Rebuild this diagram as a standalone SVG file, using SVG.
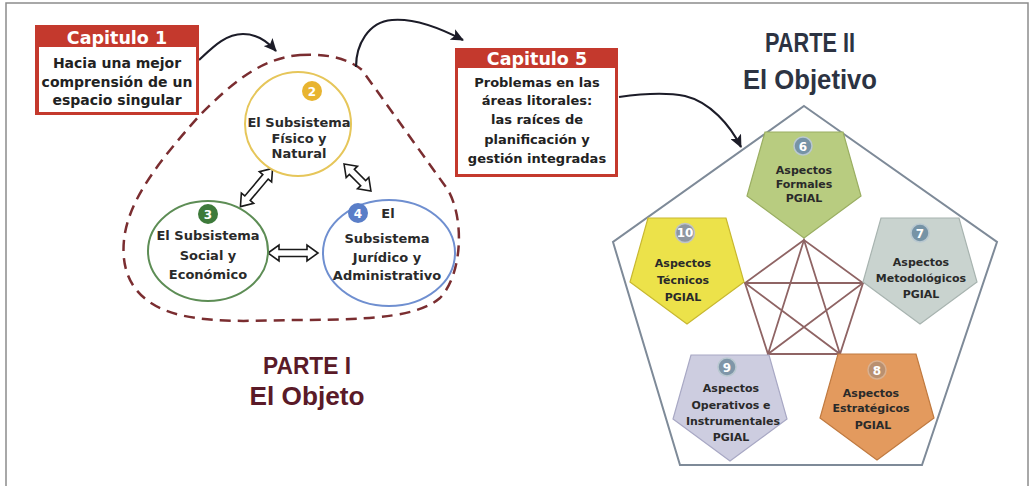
<svg xmlns="http://www.w3.org/2000/svg" xmlns:xlink="http://www.w3.org/1999/xlink" width="1032" height="486" viewBox="0 0 1032 486">
<style>
text{font-family:"DejaVu Sans","Liberation Sans",sans-serif;font-weight:bold;text-anchor:middle}
.hdr{fill:#fff;font-size:17.5px}
.body{fill:#222;font-size:14px}
.body5{fill:#222;font-size:13px}
.ctext{fill:#2a2a2a;font-size:13px}
.num{fill:#fff;font-size:12px}
.ntext{fill:#2a2a2a;font-size:11px}
.part1{fill:#5a1a28;font-family:"Liberation Sans",sans-serif}
.part2{fill:#2c3342;font-family:"Liberation Sans",sans-serif}
.redbox{fill:#c4392d}
.inner{fill:#fff}
.curve{fill:none;stroke:#1c1c28;stroke-width:2.2;marker-end:url(#ah)}
.dbl{fill:#fff;stroke:#1a1a1a;stroke-width:1.6;stroke-linejoin:miter}
.star{stroke:#8f6464;stroke-width:1.8;fill:none}
.pent{stroke-width:1.2}
</style>
<defs>
<marker id="ah" markerUnits="userSpaceOnUse" markerWidth="14" markerHeight="12" refX="12" refY="6" orient="auto">
<path d="M0,0 L13,6 L0,12 L3,6 Z" fill="#1c1c28"/>
</marker>
<polygon id="pent" points="-39,0 39,0 57,64 0,106 -57,64"/>
</defs>

<rect x="6" y="3" width="1022" height="495" fill="#fff" stroke="#8c8c8c" stroke-width="1.5"/>

<!-- dashed blob -->
<path id="blob" d="M 300 55 C 330 53 350 60 362 70 L 448 190 C 465 220 462 275 440 298 C 420 315 380 320 300 320 C 260 320 220 324 180 315 C 140 305 120 280 124 240 C 128 200 160 160 200 115 C 230 85 260 58 300 55 Z" fill="none" stroke="#7a2d30" stroke-width="2.5" stroke-dasharray="11 7"/>

<g id="connectors">
<path class="curve" d="M 199 60 C 212 48 225 34 243 34 C 258 34 268 42 276 51"/>
<path class="curve" d="M 356 67 C 356 45 368 22 392 20 C 415 18 440 28 463 40"/>
<path class="curve" d="M 619 97 C 640 94 665 92 685 96 C 710 102 730 125 741 147"/>
<polygon class="dbl" transform="translate(256.5,187.5) rotate(-50)" points="-25,0 -14,-8 -14,-3.5 14,-3.5 14,-8 25,0 14,8 14,3.5 -14,3.5 -14,8"/>
<polygon class="dbl" transform="translate(357.5,177.5) rotate(45)" points="-19,0 -8,-8 -8,-3.5 8,-3.5 8,-8 19,0 8,8 8,3.5 -8,3.5 -8,8"/>
<polygon class="dbl" transform="translate(293,253)" points="-25,0 -14,-8 -14,-3.5 14,-3.5 14,-8 25,0 14,8 14,3.5 -14,3.5 -14,8"/>
<g class="star">
<path d="M804 240 L745 283 L768 354 L840 354 L863 283 Z"/>
<path d="M804 240 L768 354 L863 283 L745 283 L840 354 Z"/>
</g>
</g>

<g id="cap1">
<rect class="redbox" x="35" y="25" width="164" height="90"/>
<rect class="inner" x="39" y="47" width="157" height="65"/>
<text class="hdr" x="117" y="44">Capitulo 1</text>
<text class="body" x="117" y="68">Hacia una mejor</text>
<text class="body" x="117" y="87">comprensión de un</text>
<text class="body" x="117" y="105">espacio singular</text>
</g>

<g id="cap5">
<rect class="redbox" x="455" y="48" width="163" height="129"/>
<rect class="inner" x="458" y="68" width="157" height="106"/>
<text class="hdr" x="537" y="65">Capitulo 5</text>
<text class="body5" x="537" y="87">Problemas en las</text>
<text class="body5" x="537" y="105">áreas litorales:</text>
<text class="body5" x="537" y="124">las raíces de</text>
<text class="body5" x="537" y="144">planificación y</text>
<text class="body5" x="537" y="163">gestión integradas</text>
</g>

<g id="sub2">
<ellipse cx="298" cy="124" rx="53" ry="52" fill="#fff" stroke="#e6c65a" stroke-width="2"/>
<circle cx="312" cy="91" r="10" fill="#e8b430"/>
<text class="num" x="312" y="95.5">2</text>
<text class="ctext" x="299" y="127">El Subsistema</text>
<text class="ctext" x="299" y="143">Físico y</text>
<text class="ctext" x="299" y="158">Natural</text>
</g>

<g id="sub3">
<ellipse cx="208" cy="251" rx="60" ry="50" fill="#fff" stroke="#5d8d55" stroke-width="2"/>
<circle cx="208" cy="214" r="10" fill="#3d7a3a"/>
<text class="num" x="208" y="218.5">3</text>
<text class="ctext" x="208" y="240">El Subsistema</text>
<text class="ctext" x="208" y="260">Social y</text>
<text class="ctext" x="208" y="279">Económico</text>
</g>

<g id="sub4">
<ellipse cx="389" cy="253" rx="66" ry="53" fill="#fff" stroke="#6f8fd0" stroke-width="2"/>
<circle cx="358" cy="213" r="10" fill="#5a7ec8"/>
<text class="num" x="358" y="217.5">4</text>
<text class="ctext" x="388" y="218">El</text>
<text class="ctext" x="387" y="243">Subsistema</text>
<text class="ctext" x="387" y="262">Jurídico y</text>
<text class="ctext" x="387" y="280">Administrativo</text>
</g>

<g id="parte1">
<text class="part1" x="307" y="374" font-size="24" textLength="88" lengthAdjust="spacingAndGlyphs">PARTE I</text>
<text class="part1" x="307" y="405" font-size="26" textLength="115" lengthAdjust="spacingAndGlyphs">El Objeto</text>
</g>

<g id="parte2">
<text class="part2" x="810" y="52" font-size="27" textLength="90" lengthAdjust="spacingAndGlyphs">PARTE II</text>
<text class="part2" x="810" y="89" font-size="27" textLength="134" lengthAdjust="spacingAndGlyphs">El Objetivo</text>
</g>

<polygon id="frame-pentagon" points="804,106 997,242 922,465 680,465 613,242" fill="none" stroke="#7e8a98" stroke-width="2"/>

<g id="node6">
<use xlink:href="#pent" class="pent" transform="translate(804,132)" fill="#b8cc80" stroke="#9aae62"/>
<circle cx="803" cy="146" r="9" fill="#7693a6" stroke="#b9c8d0" stroke-width="1.5"/>
<text class="num" x="803" y="150.5" font-size="11">6</text>
<text class="ntext" x="804" y="174">Aspectos</text>
<text class="ntext" x="804" y="188">Formales</text>
<text class="ntext" x="804" y="202">PGIAL</text>
</g>

<g id="node7">
<use xlink:href="#pent" class="pent" transform="translate(920,218)" fill="#c9d3cf" stroke="#a8b4b0"/>
<circle cx="920" cy="233" r="9" fill="#7693a6" stroke="#b9c8d0" stroke-width="1.5"/>
<text class="num" x="920" y="237.5" font-size="11">7</text>
<text class="ntext" x="921" y="266">Aspectos</text>
<text class="ntext" x="921" y="282">Metodológicos</text>
<text class="ntext" x="921" y="298">PGIAL</text>
</g>

<g id="node8">
<use xlink:href="#pent" class="pent" transform="translate(877,354)" fill="#e39a5e" stroke="#c07a40"/>
<circle cx="877" cy="370" r="9" fill="#b99070" stroke="#d8b090" stroke-width="1.5"/>
<text class="num" x="877" y="374.5" font-size="11">8</text>
<text class="ntext" x="871" y="397">Aspectos</text>
<text class="ntext" x="871" y="412">Estratégicos</text>
<text class="ntext" x="873" y="429">PGIAL</text>
</g>

<g id="node9">
<use xlink:href="#pent" class="pent" transform="translate(730,355)" fill="#cdcde0" stroke="#a8a8c4"/>
<circle cx="727" cy="367" r="9" fill="#7f96a8" stroke="#b9c8d0" stroke-width="1.5"/>
<text class="num" x="727" y="371.5" font-size="11">9</text>
<text class="ntext" x="731" y="392">Aspectos</text>
<text class="ntext" x="731" y="409">Operativos e</text>
<text class="ntext" x="733" y="425">Instrumentales</text>
<text class="ntext" x="731" y="441">PGIAL</text>
</g>

<g id="node10">
<use xlink:href="#pent" class="pent" transform="translate(687,218)" fill="#ece24a" stroke="#c8b830"/>
<circle cx="685" cy="233" r="9.5" fill="#8e96a0" stroke="#c0c4c8" stroke-width="1.5"/>
<text class="num" x="685" y="237" font-size="10">10</text>
<text class="ntext" x="683" y="267">Aspectos</text>
<text class="ntext" x="683" y="284">Técnicos</text>
<text class="ntext" x="683" y="301">PGIAL</text>
</g>
</svg>
